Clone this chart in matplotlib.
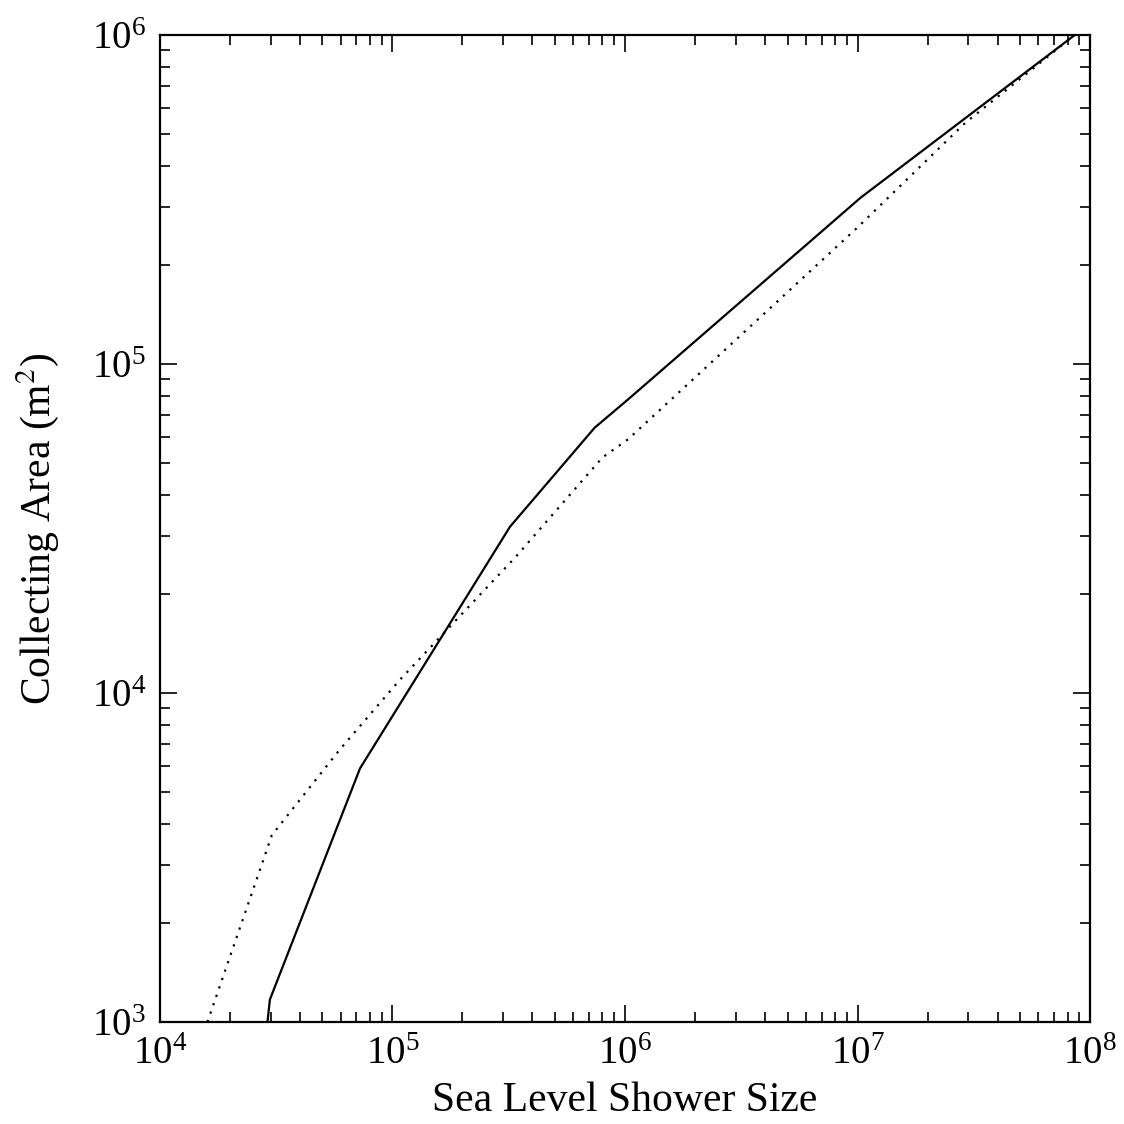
import matplotlib
matplotlib.use('Agg')
import matplotlib.pyplot as plt
from matplotlib.ticker import LogLocator

plt.rcParams['font.family'] = 'Liberation Serif'
plt.rcParams['mathtext.fontset'] = 'stix'

# solid curve
solid_x = [2.9e4, 2.97e4, 7.25e4, 3.2e5, 7.4e5, 1.03e6, 1.03e7, 8.6e7]
solid_y = [1.0e3, 1.17e3, 5.9e3, 3.2e4, 6.4e4, 7.8e4, 3.2e5, 1.0e6]

# dotted curve
dot_x = [1.6e4, 3.03e4, 5.9e4, 1.08e5, 3.4e5, 8.0e5, 1.03e6, 1.0e7, 2.9e7, 8.6e7]
dot_y = [1.0e3, 3.7e3, 6.7e3, 1.1e4, 2.6e4, 5.2e4, 5.9e4, 2.6e5, 5.4e5, 1.0e6]

fig = plt.figure(figsize=(11.24, 11.24), dpi=100)
ax = fig.add_axes([0.1423, 0.0907, 0.8275, 0.8782])

ax.plot(solid_x, solid_y, color='black', lw=1.6)
ax.plot(dot_x, dot_y, color='black', lw=1.6, linestyle=(0, (1, 3)))

ax.set_xscale('log')
ax.set_yscale('log')
ax.set_xlim(1e4, 1e8)
ax.set_ylim(1e3, 1e6)

ax.xaxis.set_major_locator(LogLocator(base=10, numticks=10))
ax.yaxis.set_major_locator(LogLocator(base=10, numticks=10))
ax.xaxis.set_minor_locator(LogLocator(base=10, subs=range(2, 10), numticks=20))
ax.yaxis.set_minor_locator(LogLocator(base=10, subs=range(2, 10), numticks=20))

ax.tick_params(which='both', direction='in', top=True, right=True, width=1.2)
ax.tick_params(which='major', length=12, labelsize=28, pad=10)
ax.tick_params(which='minor', length=7)
for s in ax.spines.values():
    s.set_linewidth(1.6)

ax.set_xlabel('Sea Level Shower Size', fontsize=30, labelpad=6)
ax.set_ylabel('Collecting Area (m$^2$)', fontsize=30, labelpad=22)

fig.savefig('out.png', dpi=100)
